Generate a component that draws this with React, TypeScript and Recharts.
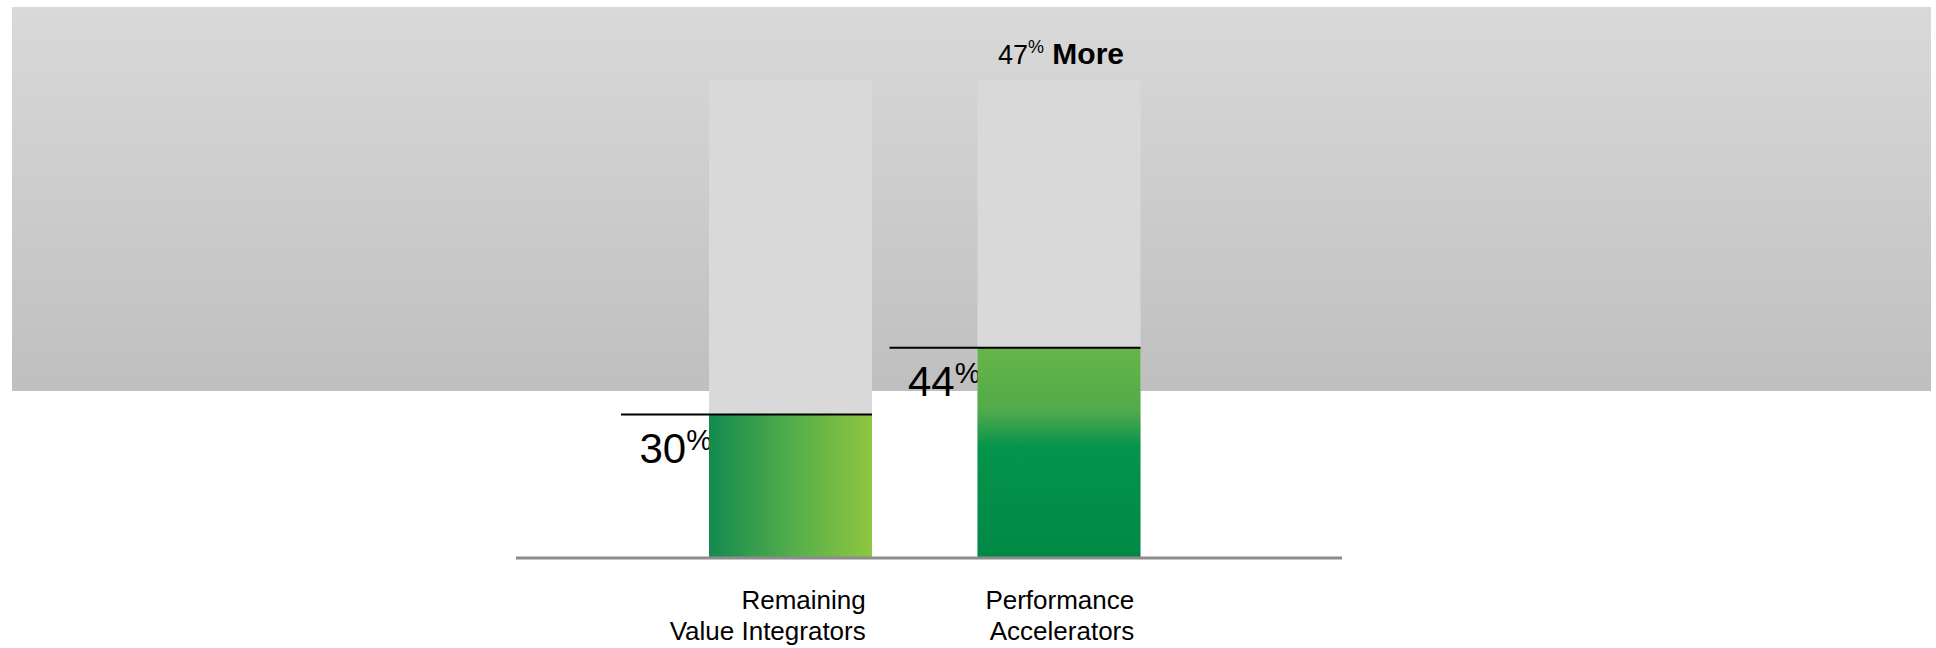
import * as React from 'react';
import { BarChart, Bar, XAxis, YAxis } from 'recharts';

const categories = ['Remaining Value Integrators', 'Performance Accelerators'];
const shares = [30, 44];
const scaleMax = [100, 100];
const uplift: (number | null)[] = [null, 47];

const data = categories.map((name, i) => ({
  name,
  share: shares[i],
  full: scaleMax[i],
  uplift: uplift[i],
}));

const FONT = '"Liberation Sans", Arial, Helvetica, sans-serif';
const BAR = 163;
const fills = ['url(#greenAcross)', 'url(#greenDown)'];

// grey track up to 100%, with the uplift callout sitting on top of it
function FullShape(props: any) {
  const { x, y, width, height, payload } = props;
  return <g>
    <rect x={x} y={y} width={width} height={height} fill="#d9d9d9" />
    {payload.uplift != null &&
      <text x={x + width / 2 + 2} y={y - 16} textAnchor="middle" fontFamily={FONT} fill="#000">
        <tspan fontSize={27}>{payload.uplift}</tspan>
        <tspan fontSize={18} dy={-11}>%</tspan>
        <tspan fontSize={30} fontWeight="bold" dy={11}> More</tspan>
      </text>}
  </g>;
}

// value label goes first so the bar covers whatever runs into it
function ShareShape(props: any) {
  const { x, y, width, height, payload, index } = props;
  return <g>
    <text x={x + 3} y={y + 48} textAnchor="end" fontFamily={FONT} fill="#000">
      <tspan fontSize={42}>{payload.share}</tspan>
      <tspan fontSize={29} dy={-13}>%</tspan>
    </text>
    <rect x={x} y={y} width={width} height={height} fill={fills[index]} />
    <line x1={x - 88} x2={x + width} y1={y} y2={y} stroke="#000" strokeWidth={2} />
  </g>;
}

function CategoryTick({ x, y, payload }: any) {
  const name: string = payload.value;
  const cut = name.indexOf(' ');
  const right = x + BAR / 2 - 6;
  return <text textAnchor="end" fontFamily={FONT} fontSize={26} fill="#000">
    <tspan x={right} y={y + 51}>{name.slice(0, cut)}</tspan>
    <tspan x={right} y={y + 82}>{name.slice(cut + 1)}</tspan>
  </text>;
}

export default function App() {
  return <div style={{ position: 'absolute', left: 0, top: 0, width: 1936, height: 648, background: '#fff' }}>
    <div style={{
      position: 'absolute', left: 12, top: 7, width: 1919, height: 384,
      background: 'linear-gradient(#d9d9d9, #bfbfbf)',
    }} />
    <div style={{ position: 'absolute', left: 0, top: 0 }}>
      <BarChart width={1936} height={648} data={data} barGap={-BAR}
        margin={{ top: 80, right: 594, left: 516, bottom: 30 }}>
        <defs>
          <linearGradient id="greenAcross" x1="0" y1="0" x2="1" y2="0">
            <stop offset="0" stopColor="#138a50" />
            <stop offset="0.5" stopColor="#52ad4a" />
            <stop offset="1" stopColor="#8ec63f" />
          </linearGradient>
          <linearGradient id="greenDown" x1="0" y1="0" x2="0" y2="1">
            <stop offset="0" stopColor="#67b547" />
            <stop offset="0.3" stopColor="#52aa4b" />
            <stop offset="0.47" stopColor="#05944c" />
            <stop offset="1" stopColor="#008945" />
          </linearGradient>
        </defs>
        <XAxis dataKey="name" height={60} padding={{ left: 140, right: 149 }}
          axisLine={{ stroke: '#8c8c8c', strokeWidth: 3 }} tickLine={false}
          tickSize={0} tickMargin={0} interval={0} tick={<CategoryTick />} />
        <YAxis hide domain={[0, 100]} />
        <Bar dataKey="full" barSize={BAR} shape={<FullShape />} isAnimationActive={false} />
        <Bar dataKey="share" barSize={BAR} shape={<ShareShape />} isAnimationActive={false} />
      </BarChart>
    </div>
  </div>;
}
